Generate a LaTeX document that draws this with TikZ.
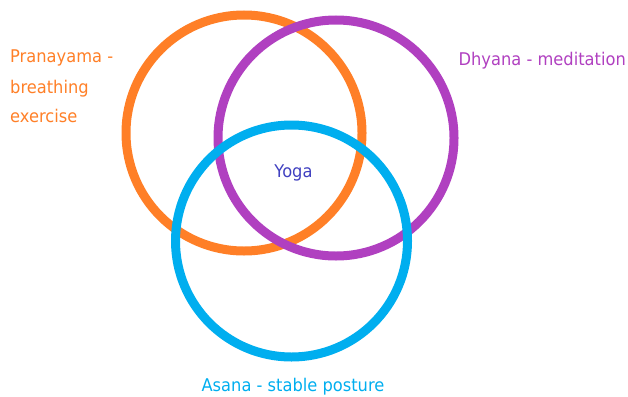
\documentclass[tikz,border=0pt]{standalone}
\usepackage{fontspec}
\setmainfont[FakeStretch=0.93]{DejaVu Sans}
\definecolor{cOrange}{HTML}{FF7F27}
\definecolor{cPurple}{HTML}{B040C0}
\definecolor{cBlue}{HTML}{00AEEF}
\definecolor{cYoga}{HTML}{4040C0}
\begin{document}
\begin{tikzpicture}[x=1pt,y=-1pt,
  ring/.style={line width=9pt},
  lbl/.style={inner sep=0pt,font=\fontsize{17.5}{21}\selectfont}]
\useasboundingbox (0,0) rectangle (628,396);
\node[ring,draw=cOrange,circle,minimum size=236pt,inner sep=0pt] (orange) at (244,133) {};
\node[ring,draw=cPurple,circle,minimum size=236pt,inner sep=0pt] (purple) at (336,138) {};
\node[ring,draw=cBlue,circle,minimum size=232pt,inner sep=0pt] (blue) at (291.5,241) {};
\node[lbl,anchor=base west,text=cOrange] (p1) at (10,63) {Pranayama -};
\node[lbl,anchor=base west,text=cOrange] (p2) at (10,93.5) {breathing};
\node[lbl,anchor=base west,text=cOrange] (p3) at (10,122.5) {exercise};
\node[lbl,anchor=base east,text=cPurple] (d) at (626,66) {Dhyana - meditation};
\node[lbl,anchor=base,text=cYoga] (y) at (293.5,177) {Yoga};
\node[lbl,anchor=base,text=cBlue] (a) at (293,391.5) {Asana - stable posture};
\end{tikzpicture}
\end{document}
